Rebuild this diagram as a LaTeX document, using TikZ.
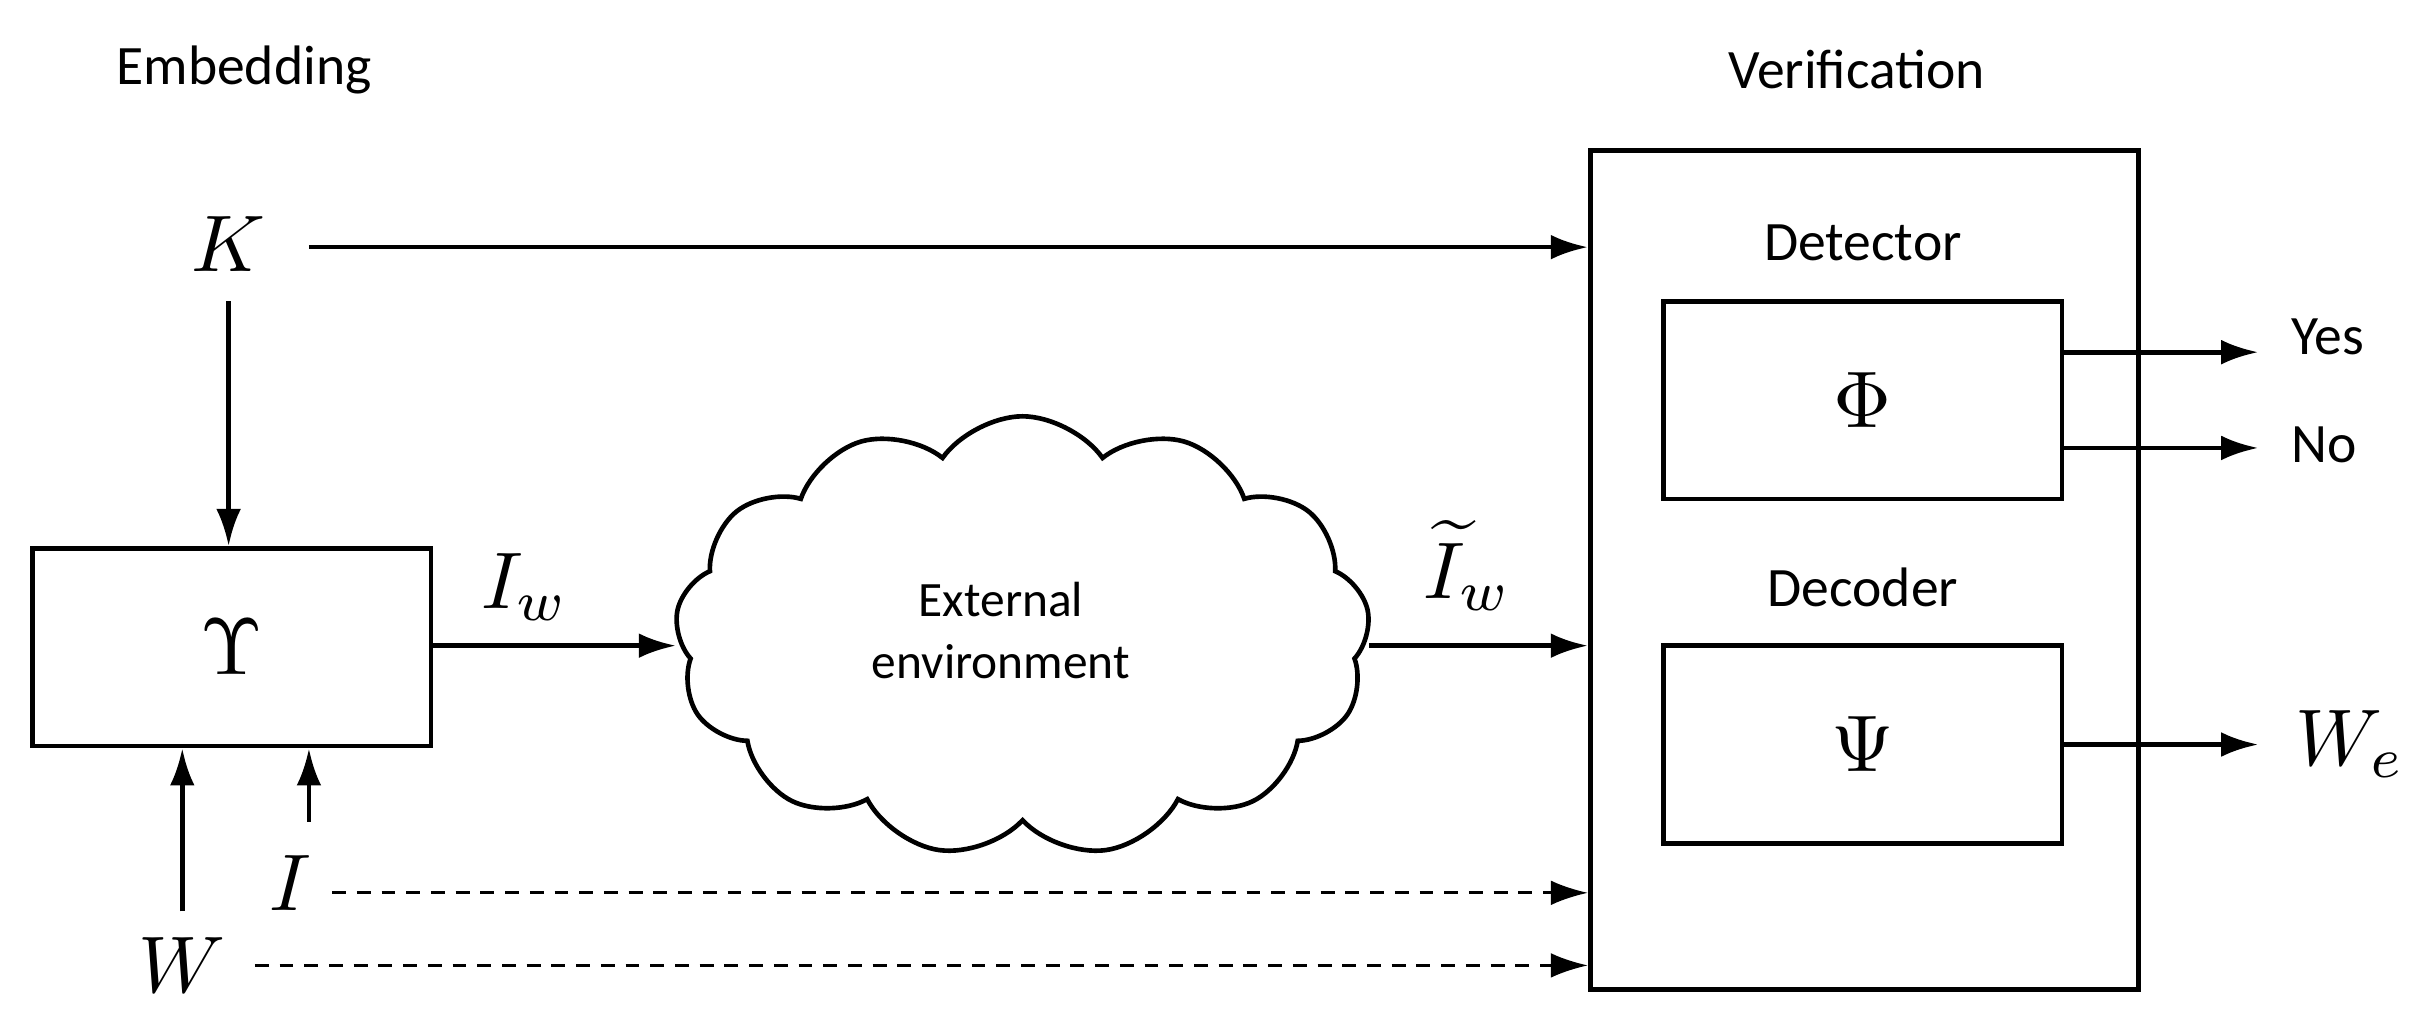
\documentclass[tikz,border=0pt]{standalone}
\usepackage{fontspec}
\setmainfont{Carlito}
\usetikzlibrary{shapes.symbols,arrows.meta}
\tikzset{every picture/.style={line width=3pt}}
\tikzset{
  blk/.style={draw,minimum width=258pt,minimum height=128pt,inner sep=0pt},
  lbl/.style={inner sep=0pt,font=\fontsize{36}{42}\selectfont},
  sym/.style={inner sep=0pt,xscale=5.2,yscale=-5.2,transform shape},
  arr/.style={-{Latex[length=24pt,width=16pt]}},
  dsh/.style={arr,dashed,line width=1.8pt,dash pattern=on 9pt off 7pt}
}
\begin{document}
\begin{tikzpicture}[x=1pt,y=1pt,yscale=-1,xscale=1]
\useasboundingbox (0,0) rectangle (1568,665);
% Embedding side
\node[lbl] (emb) at (158,45) {Embedding};
\node[sym] (k) at (148,158) {$K$};
\node[blk] (gam) at (150,419) {};
\node[sym] at (gam) {$\Upsilon$};
\node[sym] (i) at (188,572) {$I$};
\node[sym] (w) at (118,625) {$W$};
\coordinate (w0) at (118,590);
\coordinate (i0) at (200,532);
% Cloud
\node[cloud,draw,cloud puffs=13,cloud puff arc=110,aspect=1.6,minimum width=450pt,minimum height=285pt,inner sep=0pt] (env) at (662,412) {};
\node[inner sep=0pt,font=\fontsize{32}{40}\selectfont,align=center] at (648,408) {External\\environment};
% Verification side
\node[lbl] (ver) at (1202,45) {Verification};
\node[draw,minimum width=355pt,minimum height=543pt,inner sep=0pt] (vbox) at (1207,369) {};
\node[lbl] (det) at (1206,157) {Detector};
\node[blk] (phi) at (1206,259) {};
\node[sym] at (phi) {$\Phi$};
\node[lbl] (dec) at (1206,380) {Decoder};
\node[blk] (psi) at (1206,482) {};
\node[sym] at (psi) {$\Psi$};
\node[lbl,anchor=west] (yes) at (1482,218) {Yes};
\node[lbl,anchor=west] (no) at (1482,288) {No};
\node[sym,anchor=west] (we) at (1478,482) {$W_e$};
\node[sym] (iw) at (340,380) {$I_w$};
\node[sym] (tiw) at (950,366) {$\widetilde{I}_w$};
\coordinate (yes0) at (1462,228);
\coordinate (no0) at (1462,290);
\coordinate (we0) at (1462,482);
% Arrows
\draw[arr] (200,160) -- (vbox.west |- 0,160);
\draw[arr] (148,195) -- (gam.north -| k);
\draw[arr] (w0) -- (gam.south -| w0);
\draw[arr] (i0) -- (gam.south -| i0);
\draw[arr] (gam.east |- 0,418) -- (env.west |- 0,418);
\draw[arr] (env.east |- 0,418) -- (vbox.west |- 0,418);
\draw[dsh] (215,578) -- (vbox.west |- 0,578);
\draw[dsh] (165,625) -- (vbox.west |- 0,625);
\draw[arr] (phi.east |- yes0) -- (yes0);
\draw[arr] (phi.east |- no0) -- (no0);
\draw[arr] (psi.east |- we0) -- (we0);
\end{tikzpicture}
\end{document}
